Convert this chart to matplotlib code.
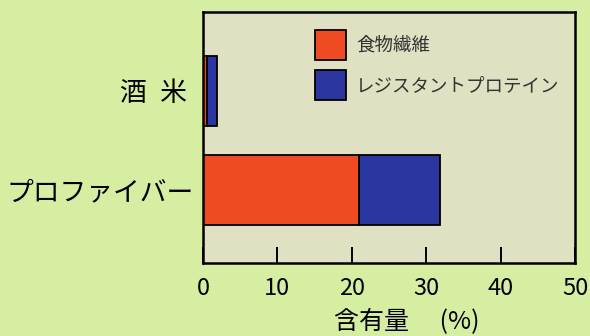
import matplotlib.pyplot as plt
from matplotlib.patches import Patch

plt.rcParams['font.family'] = ['Noto Sans CJK JP', 'DejaVu Sans']

categories = ['プロファイバー', '酒\u2002米 ']
fiber = [20.9, 0.6]
resistant = [10.9, 1.3]
series_names = ['食物繊維', 'レジスタントプロテイン']
xticks = [0, 10, 20, 30, 40, 50]

red = '#f04a22'
blue = '#2b36a0'

fig = plt.figure(figsize=(5.9, 3.36), dpi=100, facecolor='#d6eea2')
ax = fig.add_axes([0.344, 0.217, 0.631, 0.746])
ax.set_facecolor('#dfe1c2')

y = list(range(len(categories)))
ax.barh(y, fiber, height=0.707, color=red, edgecolor='black', linewidth=1.3)
ax.barh(y, resistant, left=fiber, height=0.707, color=blue, edgecolor='black', linewidth=1.3)

ax.set_xlim(0, 50)
ax.set_ylim(-0.74, 1.79)
ax.set_xticks(xticks)
ax.tick_params(axis='x', direction='in', length=11.5, width=1.4, pad=10,
               labelsize=17, colors='black')
ax.set_yticks(y)
ax.set_yticklabels(categories)
ax.tick_params(axis='y', length=0, pad=7, labelsize=19.3)
for s in ax.spines.values():
    s.set_linewidth(1.8)

ax.set_xlabel('含有量\u3000 (%)', fontsize=18)
ax.xaxis.set_label_coords(0.548, -0.288)
ax.xaxis.label.set_verticalalignment('bottom')

handles = [Patch(facecolor=red, edgecolor='black', linewidth=1.3),
           Patch(facecolor=blue, edgecolor='black', linewidth=1.3)]
ax.legend(handles, series_names, loc='upper left', bbox_to_anchor=(0.301, 0.93),
          frameon=False, fontsize=13.3, handlelength=1.68, handleheight=2.12,
          handletextpad=0.54, labelspacing=0.54, borderpad=0, borderaxespad=0,
          labelcolor='#333333')

fig.savefig('out.png', dpi=100, facecolor=fig.get_facecolor())
